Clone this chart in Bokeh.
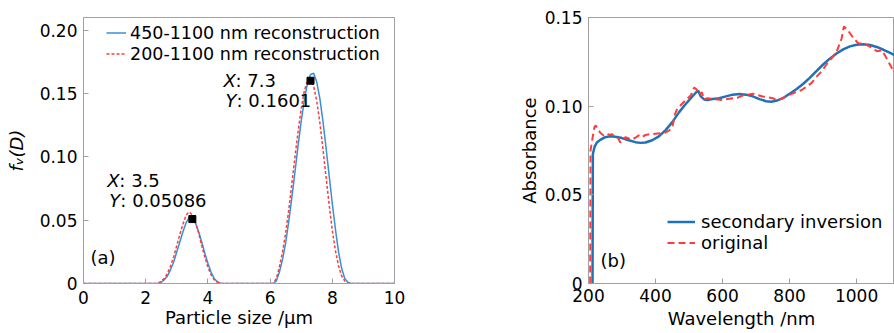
from bokeh.plotting import figure
from bokeh.models import Range1d, FixedTicker, Legend, LegendItem, Label
from bokeh.layouts import row
from bokeh.core.properties import value
from bokeh.embed import file_html
from bokeh.resources import INLINE

# ---------------- panel (a) data ----------------
size_blue = [0, 2.4, 2.5, 2.6, 2.7, 2.8, 2.9, 3.0, 3.1, 3.2, 3.3, 3.4, 3.5, 3.6, 3.7, 3.8, 3.9,
             4.0, 4.1, 4.2, 4.3, 4.4, 4.5,
             6.1, 6.2, 6.3, 6.4, 6.5, 6.6, 6.7, 6.8, 6.9, 7.0, 7.1, 7.2, 7.3, 7.4, 7.5, 7.6,
             7.7, 7.8, 7.9, 8.0, 8.1, 8.2, 8.3, 8.4, 8.5, 8.6, 10]
fv_blue = [0, 0, 0.001, 0.003, 0.006, 0.011, 0.017, 0.025, 0.033, 0.041, 0.048, 0.0523, 0.0515,
           0.048, 0.041, 0.033, 0.024, 0.016, 0.009, 0.004, 0.0015, 0.0003, 0,
           0, 0.002, 0.009, 0.019, 0.032, 0.049, 0.068, 0.088, 0.109, 0.128, 0.145, 0.158,
           0.165, 0.166, 0.159, 0.146, 0.128, 0.107, 0.085, 0.063, 0.043, 0.025, 0.012,
           0.004, 0.001, 0, 0]
size_red = [0, 2.4, 2.5, 2.6, 2.7, 2.8, 2.9, 3.0, 3.1, 3.2, 3.3, 3.4, 3.5, 3.6, 3.7, 3.8, 3.9,
            4.0, 4.1, 4.2, 4.3, 4.4,
            6.1, 6.2, 6.3, 6.4, 6.5, 6.6, 6.7, 6.8, 6.9, 7.0, 7.1, 7.2, 7.3, 7.4, 7.5, 7.6,
            7.7, 7.8, 7.9, 8.0, 8.1, 8.2, 8.3, 8.4, 8.5, 10]
fv_red = [0, 0, 0.002, 0.004, 0.008, 0.014, 0.021, 0.030, 0.039, 0.047, 0.054, 0.0565, 0.054,
          0.048, 0.040, 0.030, 0.021, 0.013, 0.007, 0.003, 0.001, 0,
          0, 0.004, 0.013, 0.025, 0.040, 0.058, 0.079, 0.100, 0.120, 0.138, 0.152, 0.160,
          0.161, 0.156, 0.144, 0.127, 0.106, 0.084, 0.062, 0.042, 0.026, 0.014, 0.006,
          0.002, 0, 0]
mark_x = [3.5, 7.3]
mark_y = [0.05086, 0.1601]
mark_xtext = [": 3.5", ": 7.3"]
mark_ytext = [": 0.05086", ": 0.1601"]
a_xticks = [0, 2, 4, 6, 8, 10]
a_yticks = [0, 0.05, 0.10, 0.15, 0.20]
a_ylabels = ["0", "0.05", "0.10", "0.15", "0.20"]

# ---------------- panel (b) data ----------------
wl_blue = [212, 213, 218, 225, 235, 250, 265, 280, 300, 320, 340, 355, 370, 390, 410, 430, 450,
           470, 490, 510, 522, 527, 535, 545, 555, 570, 590, 610, 630, 650, 670, 690, 710,
           730, 745, 760, 780, 800, 820, 840, 860, 880, 900, 920, 940, 960, 980, 1000, 1020,
           1040, 1060, 1080, 1100, 1113]
abs_blue = [0, 0.073, 0.077, 0.0795, 0.081, 0.0825, 0.083, 0.0828, 0.082, 0.0808, 0.0797,
            0.0793, 0.0795, 0.0808, 0.083, 0.0865, 0.091, 0.0965, 0.1012, 0.1055, 0.108,
            0.1088, 0.1055, 0.1038, 0.1035, 0.104, 0.1045, 0.1055, 0.1065, 0.1068, 0.1065,
            0.1055, 0.104, 0.1028, 0.1025, 0.103, 0.1045, 0.107, 0.1095, 0.1125, 0.116,
            0.1198, 0.1235, 0.1268, 0.1297, 0.132, 0.1337, 0.1346, 0.1349, 0.1345, 0.1334,
            0.1318, 0.13, 0.1288]
wl_red = [205, 206, 212, 218, 222, 228, 235, 245, 255, 262, 270, 280, 288, 295, 302, 310, 320,
          330, 340, 350, 360, 370, 385, 400, 415, 430, 440, 450, 458, 465, 475, 490, 505, 515,
          522, 530, 538, 545, 555, 570, 585, 600, 615, 630, 645, 660, 675, 690, 705, 720, 735,
          750, 760, 775, 790, 805, 820, 835, 850, 865, 880, 895, 910, 925, 940, 955, 962, 975,
          990, 1005, 1020, 1035, 1050, 1060, 1075, 1085, 1095, 1105, 1113]
abs_red = [0, 0.075, 0.082, 0.0885, 0.089, 0.087, 0.085, 0.0835, 0.0845, 0.0838, 0.0842,
           0.0828, 0.082, 0.0795, 0.0812, 0.0825, 0.0818, 0.0812, 0.0822, 0.0835, 0.0825,
           0.0838, 0.0842, 0.0845, 0.0848, 0.0852, 0.0862, 0.088, 0.0955, 0.0985, 0.1005,
           0.1035, 0.106, 0.1105, 0.1095, 0.1065, 0.1078, 0.1038, 0.1045, 0.104, 0.1038,
           0.1035, 0.104, 0.1045, 0.1048, 0.106, 0.1065, 0.107, 0.1062, 0.1055, 0.105,
           0.1045, 0.1035, 0.1042, 0.1055, 0.1068, 0.108, 0.109, 0.111, 0.113, 0.1165,
           0.1195, 0.1235, 0.127, 0.1305, 0.138, 0.145, 0.1425, 0.1385, 0.1355, 0.1352,
           0.134, 0.1325, 0.131, 0.1315, 0.1285, 0.125, 0.1215, 0.1195]
b_xticks = [200, 400, 600, 800, 1000]
b_yticks = [0, 0.05, 0.10, 0.15]
b_ylabels = ["0", "0.05", "0.10", "0.15"]

FONT = "DejaVu Sans"
GRAY = "#a0a0a0"
TICK_FS = "17px"
LAB_FS = "18px"
ANN_FS = "18px"


def style(p, xticks, yticks, ylabels):
    p.grid.visible = False
    p.outline_line_color = GRAY
    p.background_fill_color = "white"
    p.border_fill_color = "white"
    p.xaxis.ticker = FixedTicker(ticks=xticks)
    p.yaxis.ticker = FixedTicker(ticks=yticks)
    p.yaxis.major_label_overrides = {t: l for t, l in zip(yticks, ylabels)}
    for ax in (p.xaxis[0], p.yaxis[0]):
        ax.axis_line_color = GRAY
        ax.major_tick_line_color = GRAY
        ax.major_tick_in = 5
        ax.major_tick_out = 0
        ax.minor_tick_line_color = None
        ax.major_label_text_font = FONT
        ax.major_label_text_font_size = TICK_FS
        ax.major_label_text_color = "black"
        ax.axis_label_text_font = FONT
        ax.axis_label_text_font_size = LAB_FS
        ax.axis_label_text_font_style = "normal"
        ax.axis_label_text_color = "black"
    p.yaxis.major_label_standoff = 6


# ---------------- panel (a) ----------------
p1 = figure(width=450, height=333, x_range=Range1d(0, 10), y_range=Range1d(0, 0.21),
            output_backend="svg", toolbar_location=None,
            min_border_left=83, min_border_right=56, min_border_top=16, min_border_bottom=47)
style(p1, a_xticks, a_yticks, a_ylabels)
p1.xaxis.axis_label = "Particle size /\u03bcm"
p1.yaxis.axis_label = "f\u1d65(D)"
p1.yaxis.axis_label_text_font_style = "italic"
p1.xaxis.major_label_standoff = 7
p1.xaxis.axis_label_standoff = 0
p1.yaxis.axis_label_standoff = 10

r_blue_a = p1.line(size_blue, fv_blue, line_color="#3a8fd6", line_width=1.5)
r_red_a = p1.line(size_red, fv_red, line_color="#ff3b3b", line_width=1.5, line_dash="3 2")
p1.scatter(mark_x, mark_y, marker="square", size=7, fill_color="black", line_color="black")

for i in range(len(mark_x)):
    dx = [-85, -87][i]
    dy = [-38.6, 0][i]
    p1.text([mark_x[i]], [mark_y[i]], text=["X"], x_offset=dx, y_offset=dy,
            text_font=value(FONT), text_font_style="italic", text_font_size=ANN_FS,
            text_baseline="middle", text_align="left", text_color="black")
    p1.text([mark_x[i]], [mark_y[i]], text=[mark_xtext[i]], x_offset=dx + 12, y_offset=dy,
            text_font=value(FONT), text_font_size=ANN_FS,
            text_baseline="middle", text_align="left", text_color="black")
    p1.text([mark_x[i]], [mark_y[i]], text=["Y"], x_offset=dx + 2, y_offset=dy + 20,
            text_font=value(FONT), text_font_style="italic", text_font_size=ANN_FS,
            text_baseline="middle", text_align="left", text_color="black")
    p1.text([mark_x[i]], [mark_y[i]], text=[mark_ytext[i]], x_offset=dx + 13, y_offset=dy + 20,
            text_font=value(FONT), text_font_size=ANN_FS,
            text_baseline="middle", text_align="left", text_color="black")

leg1 = Legend(items=[LegendItem(label="450-1100 nm reconstruction", renderers=[r_blue_a]),
                     LegendItem(label="200-1100 nm reconstruction", renderers=[r_red_a])],
              location=(23, 219), padding=0, margin=0, spacing=0, glyph_width=20,
              label_standoff=4, label_height=21, glyph_height=21,
              label_text_font=FONT, label_text_font_size="17.5px", label_text_color="black",
              border_line_color=None, background_fill_alpha=0)
p1.add_layout(leg1)
p1.add_layout(Label(x=7, y=26, x_units="screen", y_units="screen", text="(a)",
                    text_font=FONT, text_font_size=LAB_FS, text_baseline="middle",
                    text_color="black"))

# ---------------- panel (b) ----------------
p2 = figure(width=444, height=333, x_range=Range1d(200, 1113), y_range=Range1d(0, 0.15),
            output_backend="svg", toolbar_location=None,
            min_border_left=138, min_border_right=0, min_border_top=17, min_border_bottom=50)
style(p2, b_xticks, b_yticks, b_ylabels)
p2.xaxis.axis_label = "Wavelength /nm"
p2.yaxis.axis_label = "Absorbance"
p2.xaxis.major_label_standoff = 5
p2.xaxis.axis_label_standoff = 3
p2.yaxis.axis_label_standoff = 2

r_blue_b = p2.line(wl_blue, abs_blue, line_color="#1f72b8", line_width=2.5)
r_red_b = p2.line(wl_red, abs_red, line_color="#ff3b3b", line_width=2, line_dash="7 4")

leg2 = Legend(items=[LegendItem(label="secondary inversion", renderers=[r_blue_b]),
                     LegendItem(label="original", renderers=[r_red_b])],
              location=(79, 30), padding=0, margin=0, spacing=0, glyph_width=28,
              label_standoff=6, label_height=21, glyph_height=21,
              label_text_font=FONT, label_text_font_size=LAB_FS, label_text_color="black",
              border_line_color=None, background_fill_alpha=0)
p2.add_layout(leg2)
p2.add_layout(Label(x=12, y=23, x_units="screen", y_units="screen", text="(b)",
                    text_font=FONT, text_font_size=LAB_FS, text_baseline="middle",
                    text_color="black"))

layout = row(p1, p2)
open("out.html", "w").write(file_html(layout, INLINE))
